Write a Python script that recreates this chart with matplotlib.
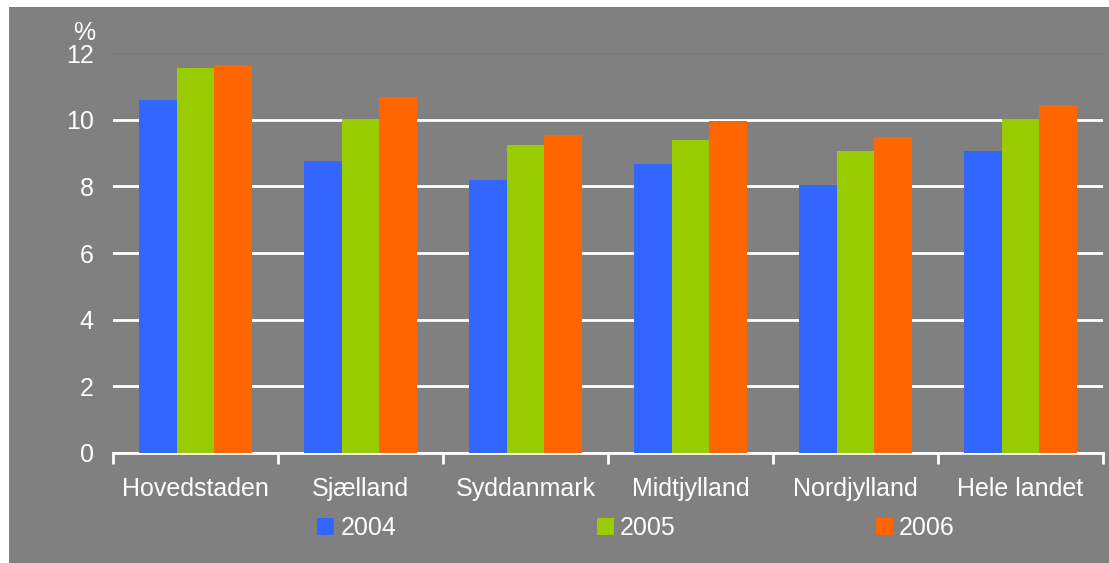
import numpy as np
import matplotlib.pyplot as plt
import matplotlib
from matplotlib.patches import Patch, Rectangle
matplotlib.rcParams.update({'font.size': 18, 'font.family': ['Liberation Sans', 'DejaVu Sans']})

regions = ['Hovedstaden', 'Sjælland', 'Syddanmark', 'Midtjylland', 'Nordjylland', 'Hele landet']
years = ['2004', '2005', '2006']
v2004 = [10.6, 8.77, 8.2, 8.68, 8.05, 9.07]
v2005 = [11.55, 10.02, 9.24, 9.4, 9.06, 10.02]
v2006 = [11.64, 10.67, 9.54, 9.97, 9.48, 10.43]
colors = ['#3366FF', '#99CC00', '#FF6600']
bg = '#808080'

fig = plt.figure(figsize=(11.09, 5.63), dpi=100, facecolor='white')
fig.patches.append(Rectangle((9/1109, 0), 1 - 9/1109, 1 - 7/563, transform=fig.transFigure,
                             facecolor=bg, edgecolor='none', zorder=-10))
ax = fig.add_axes([113/1109, 1 - 453/563, 990/1109, 400/563])
ax.set_facecolor(bg)

x = np.arange(len(regions))
w = 0.228
for i, vals in enumerate([v2004, v2005, v2006]):
    ax.bar(x + (i - 1) * w, vals, width=w, color=colors[i], zorder=3, label=years[i])

ax.set_xlim(-0.5, len(regions) - 0.5)
ax.set_ylim(0, 12)
ax.set_yticks(range(0, 13, 2))
ax.yaxis.grid(True, color='white', linewidth=2)
ax.set_axisbelow(True)
ax.yaxis.get_gridlines()[-1].set_color('#7a7a7a')
ax.yaxis.get_gridlines()[-1].set_linewidth(1)
ax.tick_params(axis='y', length=0, pad=14, colors='white', labelsize=18)

ax.set_xticks(np.arange(-0.5, len(regions), 1))
ax.set_xticklabels([])
ax.set_xticks(x, minor=True)
ax.set_xticklabels(regions, minor=True)
ax.tick_params(axis='x', which='major', length=8, width=2, color='white')
ax.tick_params(axis='x', which='minor', length=0, pad=17, labelcolor='white', labelsize=18)

for s in ['top', 'right', 'left']:
    ax.spines[s].set_visible(False)
ax.spines['bottom'].set_color('white')
ax.spines['bottom'].set_linewidth(2)

fig.text(84/1109, 1 - 33/563, '%', color='white', fontsize=18, ha='center', va='center')

handles = [Patch(facecolor=c, edgecolor='none') for c in colors]
fig.legend(handles, years, loc='center', bbox_to_anchor=(636/1109, 1 - 528/563), ncol=3,
           frameon=False, handlelength=0.68, handleheight=0.68, handletextpad=0.25,
           columnspacing=8.0, labelcolor='white', fontsize=18)

plt.savefig('out.png', dpi=100, facecolor=fig.get_facecolor())
